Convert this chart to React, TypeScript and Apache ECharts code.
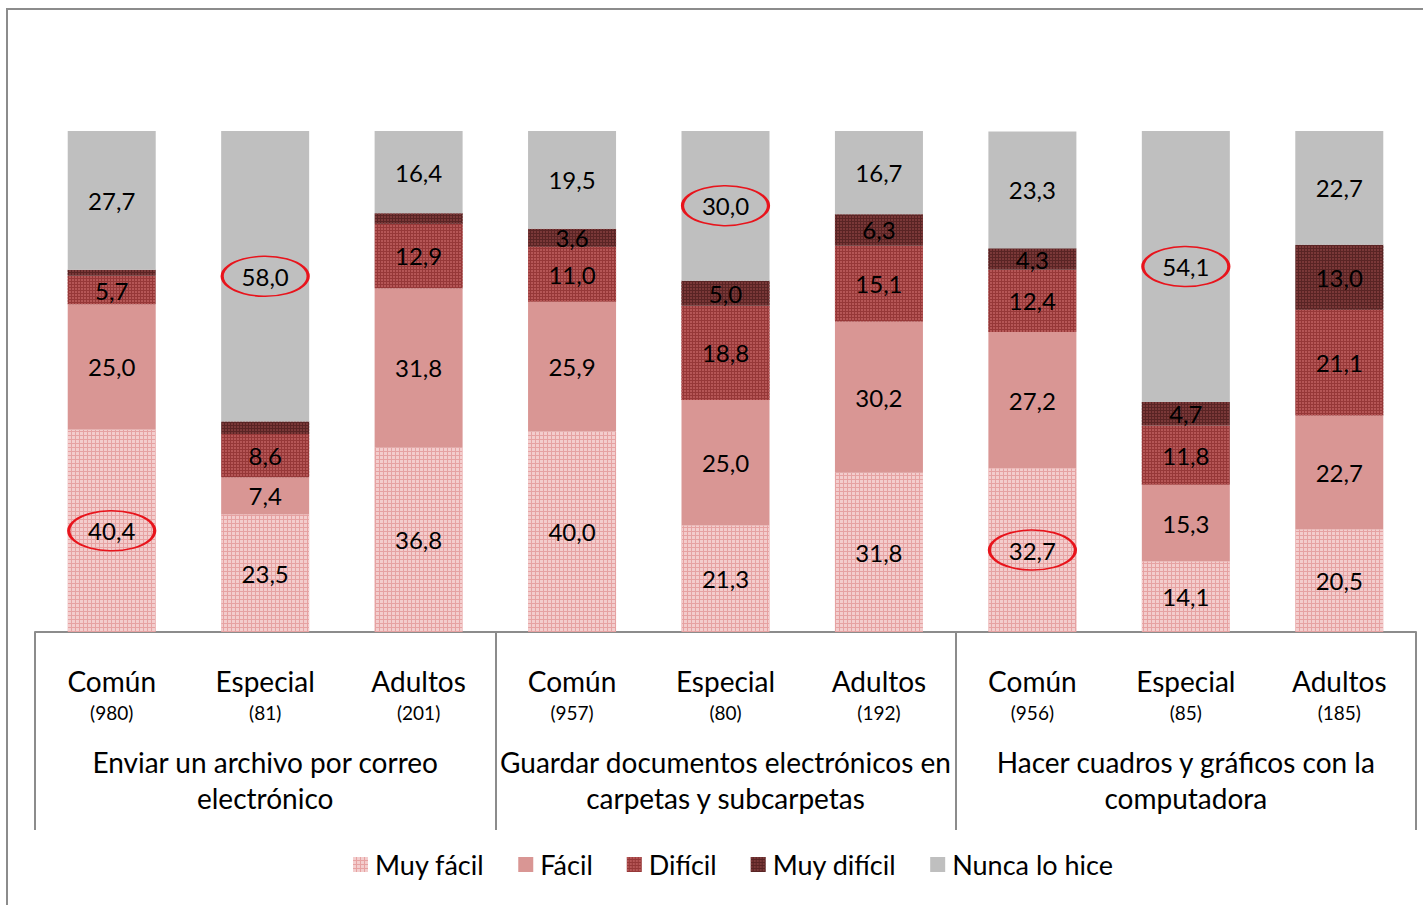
import React, { useEffect, useRef } from "react";
import * as echarts from "echarts";

const categories = ["Común", "Especial", "Adultos", "Común", "Especial", "Adultos", "Común", "Especial", "Adultos"];
const counts = ["(980)", "(81)", "(201)", "(957)", "(80)", "(192)", "(956)", "(85)", "(185)"];
const groups = [
  "Enviar un archivo por correo\nelectrónico",
  "Guardar documentos electrónicos en\ncarpetas y subcarpetas",
  "Hacer cuadros y gráficos con la\ncomputadora",
];
const seriesNames = ["Muy fácil", "Fácil", "Difícil", "Muy difícil", "Nunca lo hice"];
const muyFacil = [40.4, 23.5, 36.8, 40.0, 21.3, 31.8, 32.7, 14.1, 20.5];
const facil = [25.0, 7.4, 31.8, 25.9, 25.0, 30.2, 27.2, 15.3, 22.7];
const dificil = [5.7, 8.6, 12.9, 11.0, 18.8, 15.1, 12.4, 11.8, 21.1];
const muyDificil = [1.2, 2.5, 2.1, 3.6, 5.0, 6.3, 4.3, 4.7, 13.0];
const nunca = [27.7, 58.0, 16.4, 19.5, 30.0, 16.7, 23.3, 54.1, 22.7];
// highlighted (circled) values: [category index, series index]
const highlights: [number, number][] = [
  [0, 0],
  [1, 4],
  [4, 4],
  [6, 0],
  [7, 4],
];

const FONT = "Lato, 'Open Sans', sans-serif";

export default function App() {
  const ref = useRef<HTMLDivElement>(null);
  useEffect(() => {
    if (!ref.current) return;
    const chart = echarts.init(ref.current, null, { renderer: "svg" });
    const all = [muyFacil, facil, dificil, muyDificil, nunca];
    const styles = [
      { color: "#e6a2a2", decal: { symbol: "rect", symbolSize: 1, dashArrayX: [3, 1], dashArrayY: [3, 1], color: "#f3cdcd", rotation: 0 } },
      { color: "#d99694" },
      { color: "#963838", decal: { symbol: "rect", symbolSize: 1, dashArrayX: [2, 1], dashArrayY: [2, 1], color: "#b55656", rotation: 0 } },
      { color: "#592424", decal: { symbol: "rect", symbolSize: 1, dashArrayX: [2, 1], dashArrayY: [2, 1], color: "#7a3838", rotation: 0 } },
      { color: "#bfbfbf" },
    ];
    const fmt = (v: number) => v.toFixed(1).replace(".", ",");
    const series = all.map((arr, si) => {
      const marks = highlights
        .filter((h) => h[1] === si)
        .map(([ci]) => {
          let below = 0;
          for (let k = 0; k < si; k++) below += all[k][ci];
          return { coord: [ci, below + arr[ci] / 2] };
        });
      return {
        name: seriesNames[si],
        type: "bar",
        stack: "total",
        barWidth: 88,
        data: arr,
        itemStyle: styles[si],
        label: {
          show: true,
          position: "inside",
          color: "#000",
          fontFamily: FONT,
          fontSize: 24,
          formatter: (p: any) => (p.value >= 3 ? fmt(p.value) : ""),
        },
        markPoint: marks.length
          ? {
              symbol: "circle",
              symbolSize: [86, 40],
              silent: true,
              itemStyle: { color: "rgba(0,0,0,0)", borderColor: "#e8141c", borderWidth: 2.2 },
              label: { show: false },
              data: marks,
            }
          : undefined,
      };
    });
    chart.setOption({
      animation: false,
      backgroundColor: "#fff",
      textStyle: { fontFamily: FONT },
      graphic: [
        {
          type: "rect",
          shape: { x: 7, y: 9, width: 1440, height: 940 },
          style: { fill: "none", stroke: "#8c8c8c", lineWidth: 2 },
          silent: true,
        },
      ],
      grid: { left: 35, right: 7, top: 131, bottom: 273 },
      legend: {
        bottom: 22,
        left: 348,
        icon: "rect",
        itemWidth: 15,
        itemHeight: 15,
        itemGap: 34,
        textStyle: { fontFamily: FONT, fontSize: 27, color: "#000", padding: [0, 0, 0, 2] },
        data: seriesNames,
      },
      xAxis: [
        {
          type: "category",
          data: categories.map((c, i) => c + "\n" + counts[i]),
          position: "bottom",
          axisLine: { show: false },
          axisTick: { show: false },
          axisLabel: {
            interval: 0,
            margin: 33,
            formatter: (v: string) => {
              const [a, b] = v.split("\n");
              return "{a|" + a + "}\n{b|" + b + "}";
            },
            rich: {
              a: { fontFamily: FONT, fontSize: 28, lineHeight: 32, color: "#000" },
              b: { fontFamily: FONT, fontSize: 19, lineHeight: 30, color: "#000" },
            },
          },
        },
        {
          type: "category",
          data: groups,
          position: "bottom",
          axisLine: { show: true, lineStyle: { color: "#8c8c8c", width: 2 } },
          axisTick: { show: true, length: 198, lineStyle: { color: "#8c8c8c", width: 2 } },
          axisLabel: {
            interval: 0,
            margin: 112,
            fontFamily: FONT,
            fontSize: 28,
            lineHeight: 36,
            color: "#000",
            align: "center",
          },
        },
      ],
      yAxis: { type: "value", min: 0, max: 100, show: false, splitLine: { show: false } },
      series,
    });
    return () => chart.dispose();
  }, []);
  return <div ref={ref} style={{ position: "fixed", left: 0, top: 0, width: 1423, height: 905 }} />;
}
